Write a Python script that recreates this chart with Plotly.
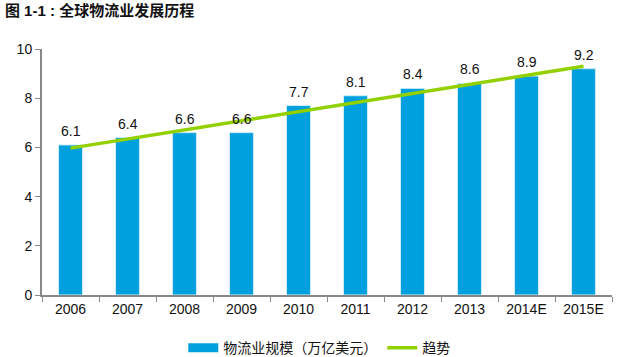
import plotly.graph_objects as go

years = ["2006", "2007", "2008", "2009", "2010", "2011", "2012", "2013", "2014E", "2015E"]
scale = [6.1, 6.4, 6.6, 6.6, 7.7, 8.1, 8.4, 8.6, 8.9, 9.2]
trend = [5.97, 6.34, 6.71, 7.08, 7.45, 7.82, 8.19, 8.56, 8.93, 9.30]
y_ticks = [0, 2, 4, 6, 8, 10]

font = "Liberation Sans, Arial, Noto Sans CJK SC, sans-serif"
blue = "#00A0DE"
green = "#92D000"

fig = go.Figure()
fig.add_trace(go.Bar(
    x=years, y=scale, name="物流业规模（万亿美元）", showlegend=False,
    marker=dict(color=blue, line=dict(color="#CDEBF8", width=1)),
))
fig.add_trace(go.Scatter(
    x=years, y=[None] * len(years), name="物流业规模（万亿美元）", mode="lines",
    line=dict(color=blue, width=9), hoverinfo="skip",
))
fig.add_trace(go.Scatter(
    x=years, y=trend, name="趋势", mode="lines",
    line=dict(color=green, width=3.5),
))
# category axis: annotations placed by category index
for i, v in enumerate(scale):
    fig.add_annotation(x=i, y=v, text=f"{v:.1f}", showarrow=False,
                       yanchor="bottom", yshift=4,
                       font=dict(size=14, color="#111111"))

fig.update_layout(
    width=620, height=357,
    margin=dict(l=42, r=8, t=49, b=62),
    paper_bgcolor="white", plot_bgcolor="white",
    font=dict(family=font, size=13, color="#111111"),
    bargap=0.58, showlegend=True,
    legend=dict(orientation="h", xref="container", yref="container",
                x=0.515, xanchor="center", y=0.025, yanchor="middle",
                font=dict(size=14), traceorder="normal", itemwidth=30),
    title=dict(text="<b>图 1-1 : 全球物流业发展历程</b>", x=0.008, xanchor="left",
               y=0.985, yanchor="top", font=dict(size=15, color="#111111")),
)
fig.update_xaxes(type="category", categoryorder="array", categoryarray=years,
                 showline=True, linecolor="#888888", linewidth=2, ticks="outside",
                 tickson="boundaries", ticklen=5, tickcolor="#888888", tickwidth=1,
                 tickfont=dict(size=14), tickangle=0, automargin=False)
fig.update_yaxes(range=[0, 10], tickvals=y_ticks, showline=True, linecolor="#888888",
                 linewidth=2, ticks="outside", ticklen=5, tickcolor="#888888",
                 showgrid=False, zeroline=False, tickfont=dict(size=14), automargin=False)
fig.write_html("out.html", config={"displayModeBar": False},
               post_script="document.body.style.margin='0';")
